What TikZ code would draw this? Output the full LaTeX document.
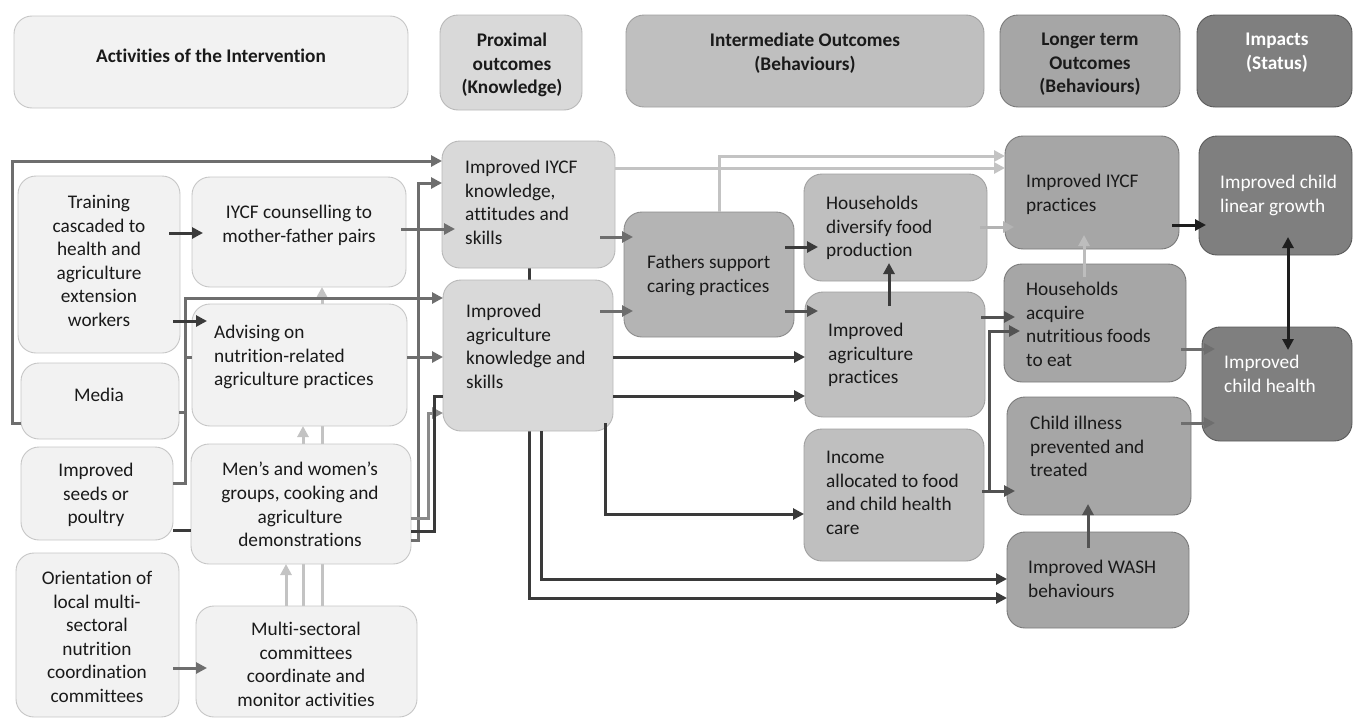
\documentclass[tikz,border=0pt]{standalone}
\usepackage{fontspec}
\setmainfont{Carlito}[Ligatures={NoCommon}]
\usetikzlibrary{arrows.meta}
\pgfdeclarelayer{bg}
\pgfsetlayers{bg,main}
\definecolor{fA}{HTML}{F2F2F2}\definecolor{dA}{HTML}{C6C6C6}
\definecolor{fP}{HTML}{D9D9D9}\definecolor{dP}{HTML}{B8B8B8}
\definecolor{fI}{HTML}{BFBFBF}\definecolor{dI}{HTML}{A0A0A0}
\definecolor{fF}{HTML}{B4B4B4}\definecolor{dF}{HTML}{8C8C8C}
\definecolor{fL}{HTML}{A6A6A6}\definecolor{dL}{HTML}{7A7A7A}
\definecolor{fM}{HTML}{7F7F7F}\definecolor{dM}{HTML}{5A5A5A}
\definecolor{tC}{HTML}{1A1A1A}
\definecolor{cD}{HTML}{3A3A3A}\definecolor{cM}{HTML}{6E6E6E}
\definecolor{cL}{HTML}{C3C3C3}\definecolor{cMM}{HTML}{525252}
\definecolor{cMl}{HTML}{8A8A8A}\definecolor{cK}{HTML}{1E1E1E}
\definecolor{cLd}{HTML}{B3B3B3}\definecolor{cLe}{HTML}{BDBDBD}
\newcommand{\mkbox}[6]{\node[bx,#6,minimum width={(#4-#2)*1pt},minimum height={(#5-#3)*1pt}] (#1) at ({(#2+#4)/2},{(#3+#5)/2}) {};}
\tikzset{
  bx/.style={rectangle, rounded corners=18pt, inner sep=0pt, outer sep=0pt, line width=0.9pt},
  act/.style={fill=fA, draw=dA},
  prx/.style={fill=fP, draw=dP},
  itm/.style={fill=fI, draw=dI},
  fat/.style={fill=fF, draw=dF},
  lng/.style={fill=fL, draw=dL},
  imp/.style={fill=fM, draw=dM},
  tx/.style={inner sep=0pt, font=\fontsize{19.3}{23.6}\selectfont, execute at begin node=\strut, text=tC},
  tc/.style={tx, align=center, anchor=north},
  tl/.style={tx, align=left, anchor=north west},
  hd/.style={tc, font=\fontsize{19.3}{23.4}\selectfont\bfseries},
  ar/.style={line width=3pt, -{Triangle[length=11pt,width=11pt]}},
  ln/.style={line width=3pt},
}
\begin{document}
\begin{tikzpicture}[x=1pt,y=-1pt]
\useasboundingbox (0,0) rectangle (1354,720);
% headers
\mkbox{h1}{14}{16}{408}{108}{act}
\mkbox{h2}{440}{15}{582}{110}{prx}
\mkbox{h3}{626}{15}{984}{107}{itm}
\mkbox{h4}{1000}{15}{1180}{107}{lng}
\mkbox{h5}{1197}{15}{1352}{107}{imp}
\node[hd] (h1t) at (211,46) {Activities of the Intervention};
\node[hd] (h2t) at (512,33) {Proximal\\outcomes\\(Knowledge)};
\node[hd] (h3t) at (805,33) {Intermediate Outcomes\\(Behaviours)};
\node[hd] (h4t) at (1090,33) {Longer term\\Outcomes\\(Behaviours)};
\node[hd,text=white] (h5t) at (1277,33) {Impacts\\(Status)};
% activities
\mkbox{trn}{18}{176}{180}{353}{act}
\mkbox{ctr}{192}{177}{406}{287}{act}
\mkbox{adv}{192}{304}{407}{426}{act}
\mkbox{med}{21}{363}{179}{439}{act}
\mkbox{sed}{21}{447}{173}{540}{act}
\mkbox{grp}{191}{444}{411}{564}{act}
\mkbox{ori}{16}{553}{179}{717}{act}
\mkbox{msc}{196}{606}{417}{717}{act}
\node[tc] (trnt) at (99,195) {Training\\cascaded to\\health and\\agriculture\\extension\\workers};
\node[tc] (ctrt) at (299,205) {IYCF counselling to\\mother-father pairs};
\node[tl] (advt) at (214,325) {Advising on\\nutrition-related\\agriculture practices};
\node[tc] (medt) at (99,385) {Media};
\node[tc] (sedt) at (96,463) {Improved\\seeds or\\poultry};
\node[tc] (grpt) at (300,462) {Men’s and women’s\\groups, cooking and\\agriculture\\demonstrations};
\node[tc] (orit) at (97,571) {Orientation of\\local multi-\\sectoral\\nutrition\\coordination\\committees};
\node[tc] (msct) at (306,622) {Multi-sectoral\\committees\\coordinate and\\monitor activities};
% proximal
\mkbox{kiy}{442}{141}{615}{268}{prx}
\mkbox{kag}{443}{280}{613}{431}{prx}
\node[tl] (kiyt) at (465,160) {Improved IYCF\\knowledge,\\attitudes and\\skills};
\node[tl] (kagt) at (466,304) {Improved\\agriculture\\knowledge and\\skills};
% intermediate
\mkbox{fth}{624}{212}{794}{337}{fat}
\mkbox{hdf}{804}{174}{987}{281}{itm}
\mkbox{iap}{805}{292}{985}{417}{itm}
\mkbox{inc}{804}{429}{984}{561}{itm}
\node[tl] (fttt) at (647,255) {Fathers support\\caring practices};
\node[tl] (hdft) at (826,196) {Households\\diversify food\\production};
\node[tl] (iapt) at (828,323) {Improved\\agriculture\\practices};
\node[tl] (inct) at (826,451) {Income\\allocated to food\\and child health\\care};
% longer term
\mkbox{ipr}{1005}{136}{1179}{249}{lng}
\mkbox{acq}{1004}{264}{1186}{382}{lng}
\mkbox{ill}{1007}{397}{1191}{515}{lng}
\mkbox{wsh}{1007}{532}{1189}{628}{lng}
\node[tl] (iprt) at (1026,174) {Improved IYCF\\practices};
\node[tl] (acqt) at (1026,282) {Households\\acquire\\nutritious foods\\to eat};
\node[tl] (illt) at (1030,416) {Child illness\\prevented and\\treated};
\node[tl] (wsht) at (1028,560) {Improved WASH\\behaviours};
% impacts
\mkbox{lgr}{1199}{136}{1352}{255}{imp}
\mkbox{hlt}{1202}{327}{1352}{441}{imp}
\node[tl,text=white] (lgrt) at (1220,175) {Improved child\\linear growth};
\node[tl,text=white] (hltt) at (1224,355) {Improved\\child health};
% connectors behind boxes
\begin{pgfonlayer}{bg}
\draw[ar,cL] (322,0|-msc.north) -- (322,0|-ctr.south);
\draw[ar,cL] (303,0|-msc.north) -- (303,0|-adv.south);
\draw[ar,cL] (286,0|-msc.north) -- (286,0|-grp.south);
\draw[ar,cD] (529,0|-kiy.south) -- (529,598) -- (wsh.west|-0,598);
\end{pgfonlayer}
% elbows
\draw[ar,cM] (med.west|-0,423) -- (12,423) -- (12,161) -- (kiy.west|-0,161);
\draw[ar,cM] (sed.east|-0,483) -- (185,483) -- (185,298) -- (kag.west|-0,298);
\draw[ln,cM] (med.east|-0,412) -- (185,412);
\draw[ln,cM] (185,357) -- (adv.west|-0,357);
\draw[ln,cD] (sed.east|-0,530) -- (grp.west|-0,530);
\draw[ar,cM] (grp.east|-0,540) -- (418,540) -- (418,183) -- (kiy.west|-0,183);
\draw[ar,cMl] (grp.east|-0,518) -- (428,518) -- (428,413) -- (kag.west|-0,413);
\draw[ln,cD] (grp.east|-0,531) -- (434,531) -- (434,396) -- (kag.west|-0,396);
\draw[ar,cD] (541,0|-kag.south) -- (541,579) -- (wsh.west|-0,579);
\draw[ar,cD,shorten <=-8pt] (605,0|-kag.south) -- (605,514) -- (inc.west|-0,514);
\draw[ar,cMM,shorten <=-2pt,shorten >=-8pt] (inc.east|-0,491) -- (ill.west|-0,491);
\draw[ar,cMM,shorten >=-16pt] (inc.east|-0,491) -- (989,491) -- (989,331) -- (acq.west|-0,331);
\draw[ar,cL] (719,0|-fth.north) -- (719,156) -- (ipr.west|-0,156);
% short horizontal arrows
\draw[ar,cD,shorten <=-11pt,shorten >=-11pt] (trn.east|-0,233) -- (ctr.west|-0,233);
\draw[ar,cD,shorten <=-7pt,shorten >=-15pt] (trn.east|-0,321) -- (adv.west|-0,321);
\draw[ar,cM,shorten <=-5pt,shorten >=-13pt] (ctr.east|-0,229) -- (kiy.west|-0,229);
\draw[ar,cM] (adv.east|-0,357) -- (kag.west|-0,357);
\draw[ar,cM,shorten <=-6pt,shorten >=-11pt] (ori.east|-0,668) -- (msc.west|-0,668);
\draw[ar,cM,shorten <=-15pt,shorten >=-9pt] (kiy.east|-0,237) -- (fth.west|-0,237);
\draw[ar,cM,shorten <=-13pt,shorten >=-9pt] (kag.east|-0,311) -- (fth.west|-0,311);
\draw[ar,cD] (kag.east|-0,357) -- (iap.west|-0,357);
\draw[ar,cD] (kag.east|-0,396) -- (iap.west|-0,396);
\draw[ar,cD,shorten <=-9pt,shorten >=-14pt] (fth.east|-0,247) -- (hdf.west|-0,247);
\draw[ar,cMM,shorten <=-9pt,shorten >=-13pt] (fth.east|-0,311) -- (iap.west|-0,311);
\draw[ar,cLd,shorten <=-7pt,shorten >=-9pt] (hdf.east|-0,227) -- (ipr.west|-0,227);
\draw[ar,cMM,shorten <=-4pt,shorten >=-11pt] (iap.east|-0,317) -- (acq.west|-0,317);
\draw[ar,cK,shorten <=-7pt,shorten >=-7pt] (ipr.east|-0,225) -- (lgr.west|-0,225);
\draw[ar,cM,shorten <=-5pt,shorten >=-13pt] (acq.east|-0,349) -- (hlt.west|-0,349);
\draw[ar,cM,shorten <=-10pt,shorten >=-13pt] (ill.east|-0,423) -- (hlt.west|-0,423);
\draw[ar,cL] (kiy.east|-0,168) -- (ipr.west|-0,168);
% vertical arrows
\draw[ar,cD,shorten <=-14pt,shorten >=-18pt] (889,0|-iap.north) -- (889,0|-hdf.south);
\draw[ar,cLe,shorten <=-13pt,shorten >=-14pt] (1084,0|-acq.north) -- (1084,0|-ipr.south);
\draw[ar,cMM,shorten <=-16pt,shorten >=-11pt] (1088,0|-wsh.north) -- (1088,0|-ill.south);
\draw[line width=3pt,cK,{Triangle[length=11pt,width=11pt]}-{Triangle[length=11pt,width=11pt]},shorten <=-18pt,shorten >=-23pt] (1288,0|-lgr.south) -- (1288,0|-hlt.north);
\end{tikzpicture}
\end{document}
